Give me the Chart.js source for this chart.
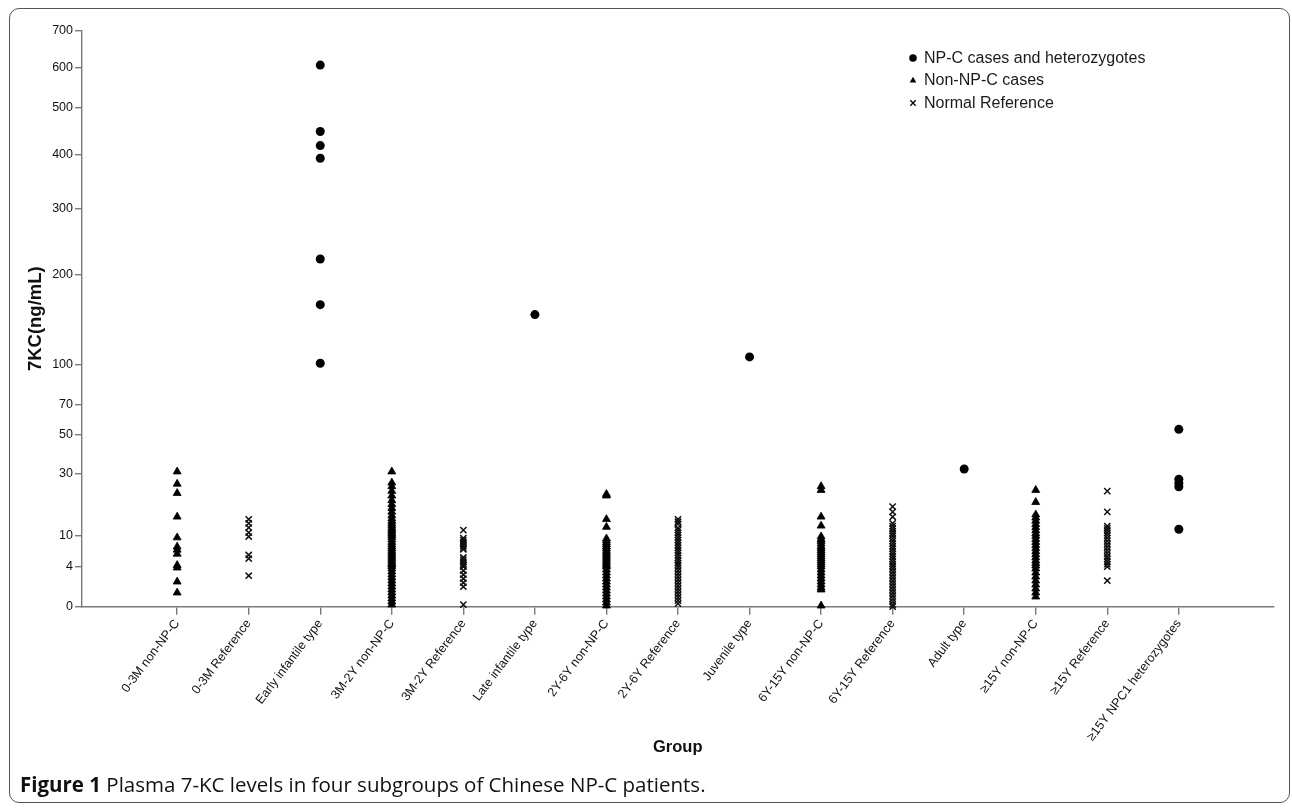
<!DOCTYPE html>
<html>
<head>
<meta charset="utf-8">
<title>Plasma 7-KC levels</title>
<script src="https://cdn.jsdelivr.net/npm/chart.js@4.4.1/dist/chart.umd.min.js"></script>
<style>
  html, body { margin: 0; padding: 0; background: #fff; }
  #wrap { position: relative; width: 1292px; height: 809px; overflow: hidden; font-family: "Liberation Sans", Arial, sans-serif; }
  #frame { position: absolute; left: 9px; top: 8px; width: 1281px; height: 795px; border: 1.5px solid #555; border-radius: 10px; box-sizing: border-box; }
  #chart { position: absolute; left: 0; top: 0; }
  #xtitle { position: absolute; left: 653px; top: 737px; font-size: 16.5px; font-weight: bold; color: #111; }
  #caption { position: absolute; left: 20px; top: 771px; font-family: "Open Sans", "Noto Sans", sans-serif; font-size: 20.5px; line-height: 27px; color: #111; white-space: nowrap; }
  #caption b { font-weight: 700; }
</style>
</head>
<body>
<div id="wrap">
  <div id="frame"></div>
  <canvas id="chart" width="1292" height="809"></canvas>
  <div id="xtitle">Group</div>
  <div id="caption"><b>Figure 1</b> Plasma 7-KC levels in four subgroups of Chinese NP-C patients.</div>
</div>
<script>
// ---- data ----
const groups = [
  '0-3M non-NP-C', '0-3M Reference', 'Early infantile type', '3M-2Y non-NP-C', '3M-2Y Reference',
  'Late infantile type', '2Y-6Y non-NP-C', '2Y-6Y Reference', 'Juvenile type', '6Y-15Y non-NP-C',
  '6Y-15Y Reference', 'Adult type', '≥15Y non-NP-C', '≥15Y Reference', '≥15Y NPC1 heterozygotes'
];

const yTicks = [0, 4, 10, 30, 50, 70, 100, 200, 300, 400, 500, 600, 700];

// NP-C cases and heterozygotes
const earlyInfantile = [606, 450, 420, 394, 224, 167, 102];
const lateInfantile  = [156];
const juvenile       = [109];
const adult          = [32.5];
const het15Y         = [53.4, 28.3, 27.0, 25.9, 12.2];

// Non-NP-C cases
const nonNPC_0_3M  = [31.2, 26.8, 23.8, 16.2, 9.7, 7.9, 7.3, 6.5, 4.3, 3.9, 2.5, 1.4];
const nonNPC_3M_2Y = [31.2, 27.2, 26.0, 24.5, 23.0, 21.5, 20.2, 19.0, 17.8, 16.6, 15.6, 14.8, 14.0, 13.3,
  12.6, 12.0, 11.4, 10.8, 10.3, 9.8, 9.3, 8.8, 8.3, 7.9, 7.5, 7.1, 6.7, 6.3, 5.9, 5.5, 5.1, 4.7, 4.4,
  4.1, 3.8, 3.5, 3.2, 2.9, 2.6, 2.3, 2.0, 1.7, 1.4, 1.1, 0.8, 0.5, 0.2];
const nonNPC_2Y_6Y = [23.5, 23.0, 15.4, 12.9, 9.5, 9.1, 8.7, 8.3, 7.9, 7.5, 7.1, 6.7, 6.3, 5.9, 5.5, 5.1,
  4.7, 4.3, 4.0, 3.7, 3.4, 3.1, 2.8, 2.5, 2.2, 1.9, 1.6, 1.3, 1.0, 0.7, 0.4, 0.1];
const nonNPC_6Y_15Y = [26.0, 24.8, 16.2, 13.3, 9.9, 9.4, 9.0, 8.5, 8.0, 7.6, 7.2, 6.8, 6.4, 6.0, 5.6, 5.2,
  4.8, 4.4, 4.0, 3.7, 3.4, 3.1, 2.8, 2.5, 2.2, 1.9, 1.7, 0.1];
const nonNPC_15Y = [24.8, 20.9, 16.9, 15.9, 14.9, 13.8, 12.8, 11.8, 10.8, 10.0, 9.4, 8.8, 8.2, 7.6, 7.0,
  6.4, 5.8, 5.2, 4.7, 4.2, 3.8, 3.4, 3.0, 2.6, 2.2, 1.8, 1.4, 1.0];

// Normal reference
const ref_0_3M  = [15.4, 14.1, 12.7, 11.1, 9.9, 6.3, 5.6, 3.1];
const ref_3M_2Y = [11.9, 9.6, 9.2, 8.8, 8.4, 8.0, 7.6, 7.4, 5.8, 5.4, 5.0, 4.6, 4.3, 4.0, 3.6, 3.2, 2.8,
  2.4, 2.0, 0.2];
const ref_2Y_6Y = [15.4, 14.6, 13.9, 12.6, 11.9, 11.0, 10.3, 9.7, 9.2, 8.7, 8.2, 7.7, 7.2, 6.7, 6.2, 5.7,
  5.2, 4.7, 4.3, 3.9, 3.6, 3.3, 3.0, 2.7, 2.4, 2.1, 1.8, 1.5, 1.2, 0.9, 0.6, 0.3];
const ref_6Y_15Y = [19.5, 17.8, 16.2, 14.1, 13.2, 12.4, 11.6, 10.8, 10.1, 9.5, 9.0, 8.5, 8.0, 7.5, 7.0,
  6.5, 6.0, 5.5, 5.0, 4.5, 4.1, 3.8, 3.5, 3.2, 2.9, 2.6, 2.3, 2.0, 1.7, 1.4, 1.1, 0.8, 0.5, 0.2, 0];
const ref_15Y = [24.5, 17.8, 13.2, 12.5, 11.8, 11.0, 10.2, 9.6, 9.0, 8.4, 7.8, 7.2, 6.6, 6.0, 5.5, 5.0,
  4.5, 4.0, 2.6];

// ---- stretched y axis (the original axis is not linear: tick heights as drawn, 0..1) ----
const yTickFrac = [0, 0.0694, 0.1227, 0.2304, 0.2993, 0.3502, 0.4196, 0.5759, 0.6917, 0.7842, 0.8658, 0.9365, 1];

function toFrac(v){
  if (v <= yTicks[0]) return 0;
  for (let i = 0; i < yTicks.length - 1; i++){
    if (v <= yTicks[i+1]){
      const t = (v - yTicks[i]) / (yTicks[i+1] - yTicks[i]);
      return yTickFrac[i] + t * (yTickFrac[i+1] - yTickFrac[i]);
    }
  }
  return 1;
}
function fromFrac(f){
  for (let i = 0; i < yTickFrac.length - 1; i++){
    if (f <= yTickFrac[i+1]){
      const t = (f - yTickFrac[i]) / (yTickFrac[i+1] - yTickFrac[i]);
      return yTicks[i] + t * (yTicks[i+1] - yTicks[i]);
    }
  }
  return yTicks[yTicks.length-1];
}

class StretchScale extends Chart.LinearScale {
  determineDataLimits(){ this.min = yTicks[0]; this.max = yTicks[yTicks.length-1]; }
  buildTicks(){ return yTicks.map(v => ({ value: v })); }
  getPixelForValue(v){ return this.getPixelForDecimal(toFrac(v)); }
  getValueForPixel(p){ return fromFrac(this.getDecimalForPixel(p)); }
}
StretchScale.id = 'stretch';
StretchScale.defaults = {};
Chart.register(StretchScale);

// ---- datasets ----
const pts = (idx, arr) => arr.map(v => ({ x: idx, y: v }));
const at = name => groups.indexOf(name);

const npcData = [].concat(
  pts(at('Early infantile type'), earlyInfantile),
  pts(at('Late infantile type'), lateInfantile),
  pts(at('Juvenile type'), juvenile),
  pts(at('Adult type'), adult),
  pts(at('≥15Y NPC1 heterozygotes'), het15Y)
);
const nonNpcData = [].concat(
  pts(at('0-3M non-NP-C'), nonNPC_0_3M),
  pts(at('3M-2Y non-NP-C'), nonNPC_3M_2Y),
  pts(at('2Y-6Y non-NP-C'), nonNPC_2Y_6Y),
  pts(at('6Y-15Y non-NP-C'), nonNPC_6Y_15Y),
  pts(at('≥15Y non-NP-C'), nonNPC_15Y)
);
const refData = [].concat(
  pts(at('0-3M Reference'), ref_0_3M),
  pts(at('3M-2Y Reference'), ref_3M_2Y),
  pts(at('2Y-6Y Reference'), ref_2Y_6Y),
  pts(at('6Y-15Y Reference'), ref_6Y_15Y),
  pts(at('≥15Y Reference'), ref_15Y)
);

// legend drawn inside the plot, top right, like the original
const innerLegend = {
  id: 'innerLegend',
  afterDraw(chart){
    const ctx = chart.ctx;
    ctx.save();
    ctx.font = '16px "Liberation Sans", Arial, sans-serif';
    ctx.textBaseline = 'middle';
    chart.data.datasets.forEach((ds, i) => {
      const y = 58 + i * 22.5;
      ctx.fillStyle = '#000';
      ctx.strokeStyle = '#000';
      ctx.lineWidth = 1.3;
      Chart.helpers.drawPoint(ctx, { pointStyle: ds.pointStyle, radius: 3.8, rotation: 0,
        borderWidth: ds.pointStyle === 'crossRot' ? 1.3 : 0 }, 913, y);
      ctx.fillStyle = '#1a1a1a';
      ctx.fillText(ds.label, 924, y + 0.5);
    });
    ctx.restore();
  }
};

const axisGray = '#7a7a7a';
const tickFont = { size: 12.5, family: '"Liberation Sans", Arial' };

new Chart(document.getElementById('chart'), {
  type: 'scatter',
  data: {
    datasets: [
      { label: 'NP-C cases and heterozygotes', data: npcData, pointStyle: 'circle', pointRadius: 4.5,
        backgroundColor: '#000', borderColor: '#000', borderWidth: 0, clip: false },
      { label: 'Non-NP-C cases', data: nonNpcData, pointStyle: 'triangle', pointRadius: 4.6,
        backgroundColor: '#000', borderColor: '#000', borderWidth: 0.8, clip: false },
      { label: 'Normal Reference', data: refData, pointStyle: 'crossRot', pointRadius: 4.4,
        backgroundColor: '#000', borderColor: '#111', borderWidth: 1.5, clip: false }
    ]
  },
  options: {
    responsive: false,
    animation: false,
    layout: { padding: { left: 25, top: 30.7, right: 18, bottom: 0 } },
    plugins: { legend: { display: false }, tooltip: { enabled: false } },
    scales: {
      x: {
        type: 'linear', min: -1.33, max: 15.33,
        afterBuildTicks: s => { s.ticks = groups.map((g, i) => ({ value: i })); },
        afterFit: s => { s.height = 202.3; },
        ticks: { autoSkip: false, minRotation: 53, maxRotation: 53, padding: 2,
          callback: v => groups[v], color: '#111', font: tickFont },
        grid: { drawOnChartArea: false, tickLength: 8, color: axisGray, lineWidth: 1.4 },
        border: { color: axisGray, width: 1.4 }
      },
      y: {
        type: 'stretch', position: 'left',
        afterFit: s => { s.width = 57; },
        ticks: { autoSkip: false, padding: 2, color: '#111', font: tickFont },
        grid: { drawOnChartArea: false, tickLength: 7, color: axisGray, lineWidth: 1.4 },
        border: { color: axisGray, width: 1.4 },
        title: { display: true, text: '7KC(ng/mL)', padding: 0, color: '#111',
          font: { size: 18.5, weight: 'bold', family: '"Liberation Sans", Arial' } }
      }
    }
  },
  plugins: [innerLegend]
});
</script>
</body>
</html>
